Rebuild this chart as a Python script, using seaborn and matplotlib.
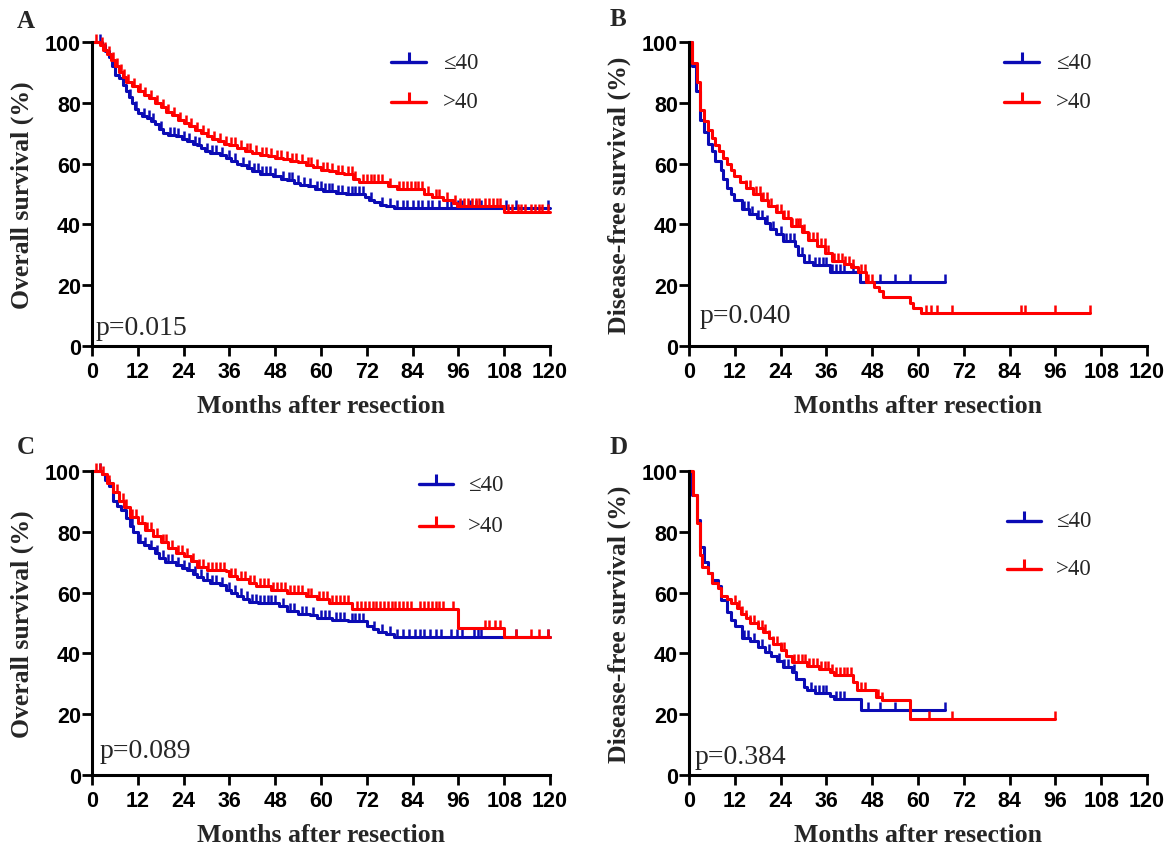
import numpy as np
import pandas as pd
import seaborn as sns
import matplotlib.pyplot as plt

# Kaplan-Meier step curves: time (months) and survival (%)
# plus censoring times. A/C = overall survival, B/D = disease-free survival.

# panel A
a_le40_t = [0, 2.5, 3.5, 4.5, 5.2, 6, 7, 8, 9, 9.8,
            10.5, 11.3, 12, 13, 14.5, 15.5, 16.5, 17.5, 18.5, 20,
            22, 23.5, 25, 26.5, 27.5, 28.5, 29.5, 31, 33.5, 35,
            36.5, 38, 39, 40.5, 42, 44, 47.5, 49.5, 51, 53,
            54.5, 56.5, 58.5, 60.5, 64, 66.5, 71.5, 72.5, 74, 75.5,
            77, 79, 120]
a_le40_s = [100, 99, 97, 95, 92, 89, 88, 86, 84, 82,
            80, 78, 76.5, 75.5, 75, 74, 73, 71.5, 70, 69.5,
            69, 68, 67.5, 66.5, 66, 65, 64, 63.5, 63, 62,
            61, 60, 59.5, 58.5, 57.5, 56.5, 56, 55, 54.5, 53.5,
            53, 52.5, 51.5, 51, 50.5, 50, 49, 48, 47.5, 46.5,
            46, 45.5, 45.5]
a_le40_cens = [2, 10, 11.5, 13.5, 15, 16, 18, 20.5, 21.5, 22.5, 24, 25.5, 27, 28, 30, 31.5,
               32.5, 34, 36, 37.5, 39.5, 41, 42.5, 43.5, 44.5, 45.5, 46.5, 48, 50, 51.5,
               52.5, 54, 55.5, 57, 59, 60, 61, 62, 63, 64.5, 65.5, 67, 68, 69, 70, 71, 73,
               76, 78, 80, 81.5, 82.5, 84, 85.5, 86.5, 88, 89, 91, 93, 94, 96, 97, 99,
               100.5, 102, 108.5, 111, 119.5]
a_gt40_t = [0, 2, 3, 4, 5, 6, 7, 8, 9, 10.5,
            12, 13.5, 15, 16.5, 18, 19.5, 21, 22.5, 24, 25.5,
            27, 28.5, 30, 31.5, 33, 34.5, 36, 38, 40, 42,
            44, 46, 48, 50, 52, 54, 56, 58, 60, 62,
            64, 66, 68.5, 70, 77.5, 80, 87, 89, 92, 94.5,
            95.5, 108, 120]
a_gt40_s = [100, 99, 97.5, 96, 94, 92, 90, 88.5, 87, 85.5,
            84, 82.5, 81.5, 80, 78.5, 77, 76, 74.5, 73.5, 72.5,
            71, 70, 69, 68, 67.5, 66.5, 66, 65, 64, 63.5,
            63, 62.5, 62, 61.5, 61, 60.5, 59.5, 59, 58, 57.5,
            57, 56.5, 55, 54, 52.5, 51.5, 50, 49, 48, 47,
            46, 44, 44]
a_gt40_cens = [1, 2.5, 3.5, 4.5, 5.5, 6.5, 7.5, 8.5, 9.5, 11, 12.5, 14, 15.5, 17, 18.5, 20,
               21.5, 23, 24.5, 26, 27.5, 29, 30.5, 32, 33.5, 35, 36.5, 37.5, 39, 40.5, 41.5,
               43, 44.5, 45.5, 47, 48.5, 49.5, 51, 52.5, 53.5, 55, 56.5, 57.5, 59, 60.5,
               61.5, 63, 64.5, 65.5, 67, 68, 69, 71, 72, 73, 74, 75, 76, 78, 80.5, 81.5,
               82.5, 83.5, 84.5, 85.5, 86.5, 88, 90, 91, 93, 95, 96.5, 97.5, 98.5, 99.5,
               100.5, 101.5, 103, 104, 105, 106, 107, 109, 110, 111.5, 112.5, 113.5, 115,
               116, 117, 118, 119.5]

# panel B
b_le40_t = [0, 0.7, 1.8, 2.8, 4, 4.9, 5.9, 6.9, 8.4, 9,
            9.9, 10.9, 11.9, 13.8, 15.8, 17.8, 19.8, 21.2, 22.7, 24.7,
            27.7, 28.6, 30.1, 32.6, 37, 44.9, 67]
b_le40_s = [100, 92, 84, 74.5, 70.5, 66.5, 64, 61, 58, 55,
            52, 50, 48, 45, 43.5, 42, 40.5, 38.5, 37, 34.5,
            33, 30, 27.5, 26.5, 24.5, 21, 21]
b_le40_cens = [14.5, 15.5, 16.5, 18, 19, 20.5, 22, 24, 25.5, 26.5, 27.5, 29.5, 31.5, 33, 34,
               35, 36, 37.5, 38.5, 39.5, 40.5, 43, 46.5, 50, 54, 58, 67]
b_gt40_t = [0, 0.8, 2, 3, 4, 4.9, 5.9, 6.9, 7.9, 8.9,
            9.9, 10.9, 11.9, 13.3, 14.8, 16.8, 18.8, 20.7, 22.7, 24.7,
            26.7, 29.6, 31.1, 33.6, 35.6, 37.5, 40.5, 42.5, 44.4, 46.4,
            48.4, 49.9, 50.9, 57.8, 58.8, 60.7, 105]
b_gt40_s = [100, 93, 87, 77.5, 74, 71, 68.5, 66, 64, 62,
            60, 58, 56, 54, 52, 50, 48, 46, 44, 42,
            39.5, 37.5, 35, 33, 30.5, 28, 27, 26, 24.5, 21,
            19.5, 18, 16, 14, 12.5, 11, 11]
b_gt40_cens = [15, 16, 17.5, 18.5, 19.5, 20.5, 21.5, 23, 24, 25, 26, 27, 28, 28.5, 29, 30,
               31.5, 32.5, 33.5, 34.5, 35.5, 36.5, 38, 39, 40, 41, 42, 43, 45, 46, 47, 48,
               62, 63.5, 65, 69, 87, 88, 96, 105]

# panel C
c_le40_t = [0, 2.5, 3.5, 4.5, 5.5, 6.5, 7.5, 9, 10, 10.8,
            12, 13.5, 15, 16.5, 17.5, 19, 22, 23.5, 25, 26.5,
            27.5, 29, 31, 33.5, 35, 36.5, 38, 39.5, 41, 43.5,
            49, 51, 54, 57, 59, 63, 67, 72, 73.5, 75,
            77, 79, 120]
c_le40_s = [100, 99, 97, 95, 90, 88.5, 87, 84.5, 82, 80,
            76.5, 75.5, 74.5, 73, 71.5, 70, 69, 68, 67.5, 66,
            65, 64, 63, 62.5, 61, 60, 59, 58, 57, 56.5,
            55.5, 54, 53, 52.5, 51.5, 51, 50.5, 49, 48, 47,
            46.5, 45.5, 45.5]
c_le40_cens = [2, 10.5, 12.5, 14, 15.5, 17, 18.5, 20, 21, 22.5, 24, 25.5, 27, 28.5, 30, 31.5,
               32.5, 34, 36, 37.5, 39, 40.5, 42, 43, 44, 45, 46, 47, 48, 50, 52, 53, 55,
               56, 58, 60, 61, 62, 64, 65, 66, 68, 69, 70, 71, 74, 76, 78, 80, 81.5, 83,
               84.5, 86, 87, 88.5, 90, 91.5, 94, 95.5, 97, 100, 101, 102, 111, 119.5]
c_gt40_t = [0, 2.5, 4, 5.5, 7, 8.5, 10, 12, 14, 16,
            18, 20, 22, 24, 26, 27.5, 30, 35, 36, 38,
            41, 43, 47, 51, 56, 59, 62, 68, 96, 108,
            120]
c_gt40_s = [100, 99, 96, 93, 90, 88, 85, 83, 80.5, 78.5,
            76.5, 74.5, 73, 72, 70.5, 68.5, 67.5, 67, 65.5, 64.5,
            63, 62, 61, 60, 59, 58, 56.5, 54.5, 48.5, 45.5,
            45.5]
c_gt40_cens = [1, 2, 3, 4.5, 5.5, 6.5, 8, 9, 10.5, 11.5, 13, 14.5, 15.5, 17, 18.5, 19.5, 21,
               22.5, 23.5, 25, 26.5, 28, 29, 30.5, 31.5, 32.5, 33.5, 34.5, 36.5, 37.5, 39,
               40, 41.5, 42.5, 44, 45, 46, 47.5, 48.5, 49.5, 50.5, 52, 53, 54, 55, 56.5,
               57.5, 59.5, 60.5, 61.5, 63, 64, 65, 66, 67, 69.5, 70.5, 71.5, 72.5, 73.5,
               74.5, 75.5, 76.5, 77.5, 78.5, 79.5, 80.5, 81.5, 82.5, 83.5, 86, 87, 88, 89,
               90, 91, 92, 94.5, 103, 104, 105.5, 107, 111, 115, 117, 119.5]

# panel D
d_le40_t = [0, 0.8, 2, 3, 4, 5, 6, 7.5, 8.5, 10,
            11, 12, 14, 16, 18, 20, 21.5, 23, 24.5, 27,
            28, 30, 31, 33, 37, 38, 45, 67]
d_le40_s = [100, 92, 84, 75, 70, 66.5, 64, 62, 57.5, 53.5,
            51, 49, 45, 44, 42, 40.5, 39, 37.5, 35.5, 34,
            31.5, 29, 28, 27, 26, 25, 21.5, 21.5]
d_le40_cens = [14.5, 15.5, 17, 19, 21, 23.5, 25, 26, 27.5, 32, 33, 34, 35, 36, 38.5, 39.5,
               40.5, 47, 50, 54, 67]
d_gt40_t = [0, 1, 2, 3, 3.5, 5, 6, 7.5, 8.5, 10,
            11, 12.5, 13.5, 15, 16, 18, 19.5, 21, 22, 24,
            25.5, 27, 31, 34, 37, 38, 43, 44, 49, 50.5,
            58, 96]
d_gt40_s = [100, 92, 83, 72.5, 68.5, 66.5, 63, 61.5, 59, 58,
            56.5, 55, 53, 51.5, 50, 48.5, 47, 45, 43, 41,
            39, 37, 36, 35, 34, 33, 30.5, 28, 25.5, 24.5,
            18.5, 18.5]
d_gt40_cens = [12, 13, 14, 15, 16, 17, 18, 19, 20, 21, 22, 23, 24, 25, 27.5, 28.5, 29.5, 30.5,
               31.5, 32.5, 33.5, 34.5, 35.5, 36.5, 37.5, 38.5, 39.5, 40.5, 41.5, 42.5, 45,
               46, 49.5, 50.5, 63, 69, 96]

letters = ['A', 'B', 'C', 'D']
ylabels = ['Overall survival (%)', 'Disease-free survival (%)',
           'Overall survival (%)', 'Disease-free survival (%)']
pvalues = ['p=0.015', 'p=0.040', 'p=0.089', 'p=0.384']
groups = ['\u226440', '>40']
xticks = [0, 12, 24, 36, 48, 60, 72, 84, 96, 108, 120]
yticks = [0, 20, 40, 60, 80, 100]

BLUE = '#0b0bb5'
RED = '#ff0000'

sns.set_style('ticks')
plt.rcParams['font.family'] = ['Liberation Sans', 'DejaVu Sans']
SERIF = ['Liberation Serif', 'DejaVu Serif']

fig = plt.figure(figsize=(11.71, 8.45), dpi=100)

# axes rectangles in figure fractions
rects = [[0.0786, 0.5893, 0.3911, 0.3598], [0.5884, 0.5893, 0.3911, 0.3598],
         [0.0786, 0.0817, 0.3911, 0.3598], [0.5884, 0.0817, 0.3911, 0.3598]]
letter_pos = [(26, 22), (618, 20), (26, 448), (619, 448)]  # pixels
p_pos = [(0.008, 0.04), (0.024, 0.079), (0.017, 0.059), (0.012, 0.04)]
# legend: x0, x1, text x, y blue, y red (axes fractions)
leg_pos = [(0.653, 0.729, 0.766, 0.934, 0.803),
           (0.688, 0.764, 0.801, 0.934, 0.803),
           (0.714, 0.788, 0.820, 0.957, 0.819),
           (0.695, 0.769, 0.802, 0.836, 0.678)]

data = [((a_le40_t, a_le40_s, a_le40_cens), (a_gt40_t, a_gt40_s, a_gt40_cens)),
        ((b_le40_t, b_le40_s, b_le40_cens), (b_gt40_t, b_gt40_s, b_gt40_cens)),
        ((c_le40_t, c_le40_s, c_le40_cens), (c_gt40_t, c_gt40_s, c_gt40_cens)),
        ((d_le40_t, d_le40_s, d_le40_cens), (d_gt40_t, d_gt40_s, d_gt40_cens))]


def draw_group(ax, t, s, cens, color):
    df = pd.DataFrame({'t': t, 's': s})
    sns.lineplot(data=df, x='t', y='s', drawstyle='steps-post', estimator=None, sort=False,
                 color=color, lw=2.2, ax=ax, clip_on=False)
    # censor ticks sit on the step curve
    idx = np.searchsorted(np.array(t), np.array(cens), side='right') - 1
    cy = np.array(s)[idx]
    ax.plot(cens, cy, ls='none', marker=2, ms=6, mew=1.8, color=color, clip_on=False)


for i in range(4):
    ax = fig.add_axes(rects[i])
    (g1, g2) = data[i]
    draw_group(ax, *g1, BLUE)
    draw_group(ax, *g2, RED)

    ax.set_xlim(0, 120)
    ax.set_ylim(0, 100)
    ax.set_xticks(xticks)
    ax.set_yticks(yticks)
    for side in ['top', 'right']:
        ax.spines[side].set_visible(False)
    for side in ['left', 'bottom']:
        ax.spines[side].set_linewidth(2.2)
        ax.spines[side].set_color('black')
    ax.tick_params(direction='out', length=7, width=2, labelsize=15.5, colors='black')
    ax.tick_params(axis='x', pad=4)
    ax.tick_params(axis='y', pad=1)
    for lbl in ax.get_xticklabels() + ax.get_yticklabels():
        lbl.set_fontweight('bold')

    ax.set_xlabel('Months after resection', family=SERIF, fontweight='bold', fontsize=18.5)
    ax.set_ylabel(ylabels[i], family=SERIF, fontweight='bold', fontsize=18.5)
    ax.xaxis.set_label_coords(0.5, -0.195)
    ax.xaxis.label.set_va('center')
    ax.yaxis.set_label_coords(-0.152, 0.5)
    ax.yaxis.label.set_va('center')

    ax.text(p_pos[i][0], p_pos[i][1], pvalues[i], transform=ax.transAxes,
            family=SERIF, fontsize=20, va='baseline', ha='left')

    x0, x1, tx, yb, yr = leg_pos[i]
    for y, col, name in [(yb, BLUE, groups[0]), (yr, RED, groups[1])]:
        ax.plot([x0, x1], [y, y], color=col, lw=2.4, transform=ax.transAxes, clip_on=False)
        ax.plot([(x0 + x1) / 2], [y], marker=2, ms=7, mew=2.2, color=col,
                transform=ax.transAxes, clip_on=False)
        ax.text(tx, y, name, transform=ax.transAxes, family=SERIF, fontsize=16.5,
                va='center', ha='left')

    px, py = letter_pos[i]
    fig.text(px / 1171, 1 - py / 845, letters[i], family=SERIF, fontweight='bold',
             fontsize=18, ha='center', va='center')

fig.savefig('out.png', dpi=100)
